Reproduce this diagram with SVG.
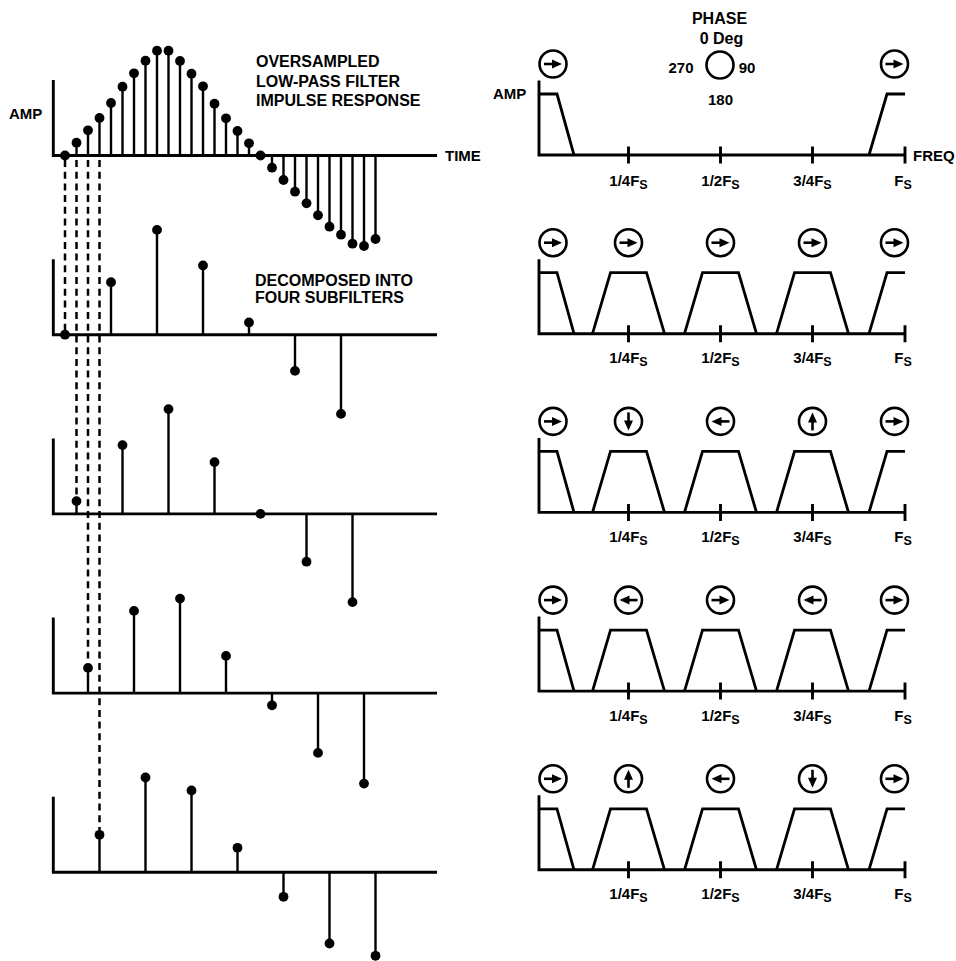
<svg xmlns="http://www.w3.org/2000/svg" xmlns:xlink="http://www.w3.org/1999/xlink" width="956" height="961" viewBox="0 0 956 961">
<style>
.ax{stroke:#000;stroke-width:2.9;fill:none;stroke-linecap:butt}
.st{stroke:#000;stroke-width:2.4;fill:none}
.sh{stroke:#000;stroke-width:2.8;fill:none;stroke-linejoin:miter}
.dash{stroke:#000;stroke-width:2.5;fill:none;stroke-dasharray:7 4.7}
.dot{fill:#000}
.t{font-family:"Liberation Sans",Arial,Helvetica,sans-serif;font-weight:bold;font-size:15px;fill:#000}
.big{font-size:16px}
.sub{font-size:12.5px}
</style>
<defs>
<g id="ph">
<circle r="13.5" fill="#fff" stroke="#000" stroke-width="2.6"/>
<path d="M-9 0H1" stroke="#000" stroke-width="2.6"/>
<path d="M-1 -4.5L9 0L-1 4.5Z" fill="#000"/>
</g>
</defs>
<rect width="956" height="961" fill="#fff"/>

<!-- Oversampled impulse response -->
<g id="impulse">
<path class="ax" d="M53.3 80V155.5H437"/>
<path class="st" d="M76.5 155.5V142.7M88 155.5V130.3M99.5 155.5V118M111 155.5V103M122.5 155.5V86.7M134 155.5V73.3M145.5 155.5V60.7M157 155.5V50.7M168.5 155.5V50.7M180 155.5V61M191.5 155.5V73.7M203 155.5V86.3M214.5 155.5V103.7M226 155.5V118.3M237.5 155.5V131M249 155.5V143.3M272 155.5V167.7M283.5 155.5V180M295 155.5V191.7M306.5 155.5V203.3M318 155.5V215.3M329.5 155.5V226.7M341 155.5V234.7M352.5 155.5V243.7M364 155.5V246M375.5 155.5V239"/>
<g class="dot">
<circle cx="65" cy="155.5" r="4.9"/><circle cx="76.5" cy="142.7" r="4.9"/><circle cx="88" cy="130.3" r="4.9"/><circle cx="99.5" cy="118" r="4.9"/>
<circle cx="111" cy="103" r="4.9"/><circle cx="122.5" cy="86.7" r="4.9"/><circle cx="134" cy="73.3" r="4.9"/><circle cx="145.5" cy="60.7" r="4.9"/>
<circle cx="157" cy="50.7" r="4.9"/><circle cx="168.5" cy="50.7" r="4.9"/><circle cx="180" cy="61" r="4.9"/><circle cx="191.5" cy="73.7" r="4.9"/>
<circle cx="203" cy="86.3" r="4.9"/><circle cx="214.5" cy="103.7" r="4.9"/><circle cx="226" cy="118.3" r="4.9"/><circle cx="237.5" cy="131" r="4.9"/>
<circle cx="249" cy="143.3" r="4.9"/><circle cx="260.5" cy="155.5" r="4.9"/><circle cx="272" cy="167.7" r="4.9"/><circle cx="283.5" cy="180" r="4.9"/>
<circle cx="295" cy="191.7" r="4.9"/><circle cx="306.5" cy="203.3" r="4.9"/><circle cx="318" cy="215.3" r="4.9"/><circle cx="329.5" cy="226.7" r="4.9"/>
<circle cx="341" cy="234.7" r="4.9"/><circle cx="352.5" cy="243.7" r="4.9"/><circle cx="364" cy="246" r="4.9"/><circle cx="375.5" cy="239" r="4.9"/>
</g>
<text class="t" x="9" y="118.5">AMP</text>
<text class="t" x="445" y="160.5">TIME</text>
<text class="t big" x="256" y="67.3">OVERSAMPLED</text>
<text class="t big" x="256" y="86.5">LOW-PASS FILTER</text>
<text class="t big" x="256" y="105.7">IMPULSE RESPONSE</text>
</g>

<!-- Subfilter 1 -->
<g id="subfilter1">
<path class="ax" d="M53.3 259.2V334.7H437"/>
<path class="st" d="M111 334.7V282.2M157 334.7V229.9M203 334.7V265.5M249 334.7V322.5M295 334.7V370.9M341 334.7V413.9"/>
<g class="dot">
<circle cx="65" cy="334.7" r="4.9"/><circle cx="111" cy="282.2" r="4.9"/><circle cx="157" cy="229.9" r="4.9"/><circle cx="203" cy="265.5" r="4.9"/>
<circle cx="249" cy="322.5" r="4.9"/><circle cx="295" cy="370.9" r="4.9"/><circle cx="341" cy="413.9" r="4.9"/>
</g>
<text class="t big" x="255" y="286">DECOMPOSED INTO</text>
<text class="t big" x="255" y="303.3">FOUR SUBFILTERS</text>
</g>

<!-- Subfilter 2 -->
<g id="subfilter2">
<path class="ax" d="M53.3 438.4V513.9H437"/>
<path class="st" d="M76.5 513.9V501.1M122.5 513.9V445.1M168.5 513.9V409.1M214.5 513.9V462.1M306.5 513.9V561.7M352.5 513.9V602.1"/>
<g class="dot">
<circle cx="76.5" cy="501.1" r="4.9"/><circle cx="122.5" cy="445.1" r="4.9"/><circle cx="168.5" cy="409.1" r="4.9"/><circle cx="214.5" cy="462.1" r="4.9"/>
<circle cx="260.5" cy="513.9" r="4.9"/><circle cx="306.5" cy="561.7" r="4.9"/><circle cx="352.5" cy="602.1" r="4.9"/>
</g>
</g>

<!-- Subfilter 3 -->
<g id="subfilter3">
<path class="ax" d="M53.3 617.6V693.1H437"/>
<path class="st" d="M88 693.1V667.9M134 693.1V610.9M180 693.1V598.6M226 693.1V655.9M272 693.1V705.3M318 693.1V752.9M364 693.1V783.6"/>
<g class="dot">
<circle cx="88" cy="667.9" r="4.9"/><circle cx="134" cy="610.9" r="4.9"/><circle cx="180" cy="598.6" r="4.9"/><circle cx="226" cy="655.9" r="4.9"/>
<circle cx="272" cy="705.3" r="4.9"/><circle cx="318" cy="752.9" r="4.9"/><circle cx="364" cy="783.6" r="4.9"/>
</g>
</g>

<!-- Subfilter 4 -->
<g id="subfilter4">
<path class="ax" d="M53.3 796.8V872.3H437"/>
<path class="st" d="M99.5 872.3V834.8M145.5 872.3V777.5M191.5 872.3V790.5M237.5 872.3V847.8M283.5 872.3V896.8M329.5 872.3V943.5M375.5 872.3V955.8"/>
<g class="dot">
<circle cx="99.5" cy="834.8" r="4.9"/><circle cx="145.5" cy="777.5" r="4.9"/><circle cx="191.5" cy="790.5" r="4.9"/><circle cx="237.5" cy="847.8" r="4.9"/>
<circle cx="283.5" cy="896.8" r="4.9"/><circle cx="329.5" cy="943.5" r="4.9"/><circle cx="375.5" cy="955.8" r="4.9"/>
</g>
</g>

<!-- Connectors: dashed decomposition lines -->
<g id="connectors">
<path class="dash" d="M65 160V330"/>
<path class="dash" d="M76.5 160V496"/>
<path class="dash" d="M88 160V663"/>
<path class="dash" d="M99.5 160V830"/>
</g>

<!-- Phase legend -->
<g id="phase-legend">
<text class="t big" x="719.5" y="24.3" text-anchor="middle">PHASE</text>
<text class="t big" x="721.5" y="43.5" text-anchor="middle">0 Deg</text>
<circle cx="720" cy="65" r="13.5" fill="none" stroke="#000" stroke-width="2.6"/>
<text class="t" x="681" y="72.5" text-anchor="middle">270</text>
<text class="t" x="747" y="72.5" text-anchor="middle">90</text>
<text class="t" x="720.5" y="105" text-anchor="middle">180</text>
</g>

<!-- Spectrum row 1 -->
<g id="spectrum1" transform="translate(0,155)">
<path class="ax" d="M539 -74.5V0H905"/>
<path class="ax" d="M628.5 -8.5V8.5M720.5 -8.5V8.5M812.5 -8.5V8.5M905 -8.5V8.5"/>
<path class="sh" d="M539 -61H557L574 0M869 0L887 -61H905"/>
<use xlink:href="#ph" transform="translate(553,-91)"/>
<use xlink:href="#ph" transform="translate(894.5,-91)"/>
<text class="t" x="493" y="-56">AMP</text>
<text class="t" x="913" y="5.5">FREQ</text>
<text class="t" x="628.5" y="30.5" text-anchor="middle">1/4F<tspan class="sub" dy="3">S</tspan></text>
<text class="t" x="720.5" y="30.5" text-anchor="middle">1/2F<tspan class="sub" dy="3">S</tspan></text>
<text class="t" x="812.5" y="30.5" text-anchor="middle">3/4F<tspan class="sub" dy="3">S</tspan></text>
<text class="t" x="903" y="30.5" text-anchor="middle">F<tspan class="sub" dy="3">S</tspan></text>
</g>

<!-- Spectrum row 2 -->
<g id="spectrum2" transform="translate(0,333.7)">
<path class="ax" d="M539 -74.5V0H905"/>
<path class="ax" d="M628.5 -8.5V8.5M720.5 -8.5V8.5M812.5 -8.5V8.5M905 -8.5V8.5"/>
<path class="sh" d="M539 -61H557L574 0M592.5 0L610.5 -61H646.5L664.5 0M684.5 0L702.5 -61H738.5L756.5 0M776.5 0L794.5 -61H830.5L848.5 0M869 0L887 -61H905"/>
<use xlink:href="#ph" transform="translate(553,-91)"/>
<use xlink:href="#ph" transform="translate(628.5,-91)"/>
<use xlink:href="#ph" transform="translate(720.5,-91)"/>
<use xlink:href="#ph" transform="translate(812.5,-91)"/>
<use xlink:href="#ph" transform="translate(894.5,-91)"/>
<text class="t" x="628.5" y="29.5" text-anchor="middle">1/4F<tspan class="sub" dy="3">S</tspan></text>
<text class="t" x="720.5" y="29.5" text-anchor="middle">1/2F<tspan class="sub" dy="3">S</tspan></text>
<text class="t" x="812.5" y="29.5" text-anchor="middle">3/4F<tspan class="sub" dy="3">S</tspan></text>
<text class="t" x="903" y="29.5" text-anchor="middle">F<tspan class="sub" dy="3">S</tspan></text>
</g>

<!-- Spectrum row 3 -->
<g id="spectrum3" transform="translate(0,512.4)">
<path class="ax" d="M539 -74.5V0H905"/>
<path class="ax" d="M628.5 -8.5V8.5M720.5 -8.5V8.5M812.5 -8.5V8.5M905 -8.5V8.5"/>
<path class="sh" d="M539 -61H557L574 0M592.5 0L610.5 -61H646.5L664.5 0M684.5 0L702.5 -61H738.5L756.5 0M776.5 0L794.5 -61H830.5L848.5 0M869 0L887 -61H905"/>
<use xlink:href="#ph" transform="translate(553,-91)"/>
<use xlink:href="#ph" transform="translate(628.5,-91) rotate(90)"/>
<use xlink:href="#ph" transform="translate(720.5,-91) rotate(180)"/>
<use xlink:href="#ph" transform="translate(812.5,-91) rotate(-90)"/>
<use xlink:href="#ph" transform="translate(894.5,-91)"/>
<text class="t" x="628.5" y="29.5" text-anchor="middle">1/4F<tspan class="sub" dy="3">S</tspan></text>
<text class="t" x="720.5" y="29.5" text-anchor="middle">1/2F<tspan class="sub" dy="3">S</tspan></text>
<text class="t" x="812.5" y="29.5" text-anchor="middle">3/4F<tspan class="sub" dy="3">S</tspan></text>
<text class="t" x="903" y="29.5" text-anchor="middle">F<tspan class="sub" dy="3">S</tspan></text>
</g>

<!-- Spectrum row 4 -->
<g id="spectrum4" transform="translate(0,691.1)">
<path class="ax" d="M539 -74.5V0H905"/>
<path class="ax" d="M628.5 -8.5V8.5M720.5 -8.5V8.5M812.5 -8.5V8.5M905 -8.5V8.5"/>
<path class="sh" d="M539 -61H557L574 0M592.5 0L610.5 -61H646.5L664.5 0M684.5 0L702.5 -61H738.5L756.5 0M776.5 0L794.5 -61H830.5L848.5 0M869 0L887 -61H905"/>
<use xlink:href="#ph" transform="translate(553,-91)"/>
<use xlink:href="#ph" transform="translate(628.5,-91) rotate(180)"/>
<use xlink:href="#ph" transform="translate(720.5,-91)"/>
<use xlink:href="#ph" transform="translate(812.5,-91) rotate(180)"/>
<use xlink:href="#ph" transform="translate(894.5,-91)"/>
<text class="t" x="628.5" y="29.5" text-anchor="middle">1/4F<tspan class="sub" dy="3">S</tspan></text>
<text class="t" x="720.5" y="29.5" text-anchor="middle">1/2F<tspan class="sub" dy="3">S</tspan></text>
<text class="t" x="812.5" y="29.5" text-anchor="middle">3/4F<tspan class="sub" dy="3">S</tspan></text>
<text class="t" x="903" y="29.5" text-anchor="middle">F<tspan class="sub" dy="3">S</tspan></text>
</g>

<!-- Spectrum row 5 -->
<g id="spectrum5" transform="translate(0,869.8)">
<path class="ax" d="M539 -74.5V0H905"/>
<path class="ax" d="M628.5 -8.5V8.5M720.5 -8.5V8.5M812.5 -8.5V8.5M905 -8.5V8.5"/>
<path class="sh" d="M539 -61H557L574 0M592.5 0L610.5 -61H646.5L664.5 0M684.5 0L702.5 -61H738.5L756.5 0M776.5 0L794.5 -61H830.5L848.5 0M869 0L887 -61H905"/>
<use xlink:href="#ph" transform="translate(553,-91)"/>
<use xlink:href="#ph" transform="translate(628.5,-91) rotate(-90)"/>
<use xlink:href="#ph" transform="translate(720.5,-91) rotate(180)"/>
<use xlink:href="#ph" transform="translate(812.5,-91) rotate(90)"/>
<use xlink:href="#ph" transform="translate(894.5,-91)"/>
<text class="t" x="628.5" y="29.5" text-anchor="middle">1/4F<tspan class="sub" dy="3">S</tspan></text>
<text class="t" x="720.5" y="29.5" text-anchor="middle">1/2F<tspan class="sub" dy="3">S</tspan></text>
<text class="t" x="812.5" y="29.5" text-anchor="middle">3/4F<tspan class="sub" dy="3">S</tspan></text>
<text class="t" x="903" y="29.5" text-anchor="middle">F<tspan class="sub" dy="3">S</tspan></text>
</g>
</svg>
